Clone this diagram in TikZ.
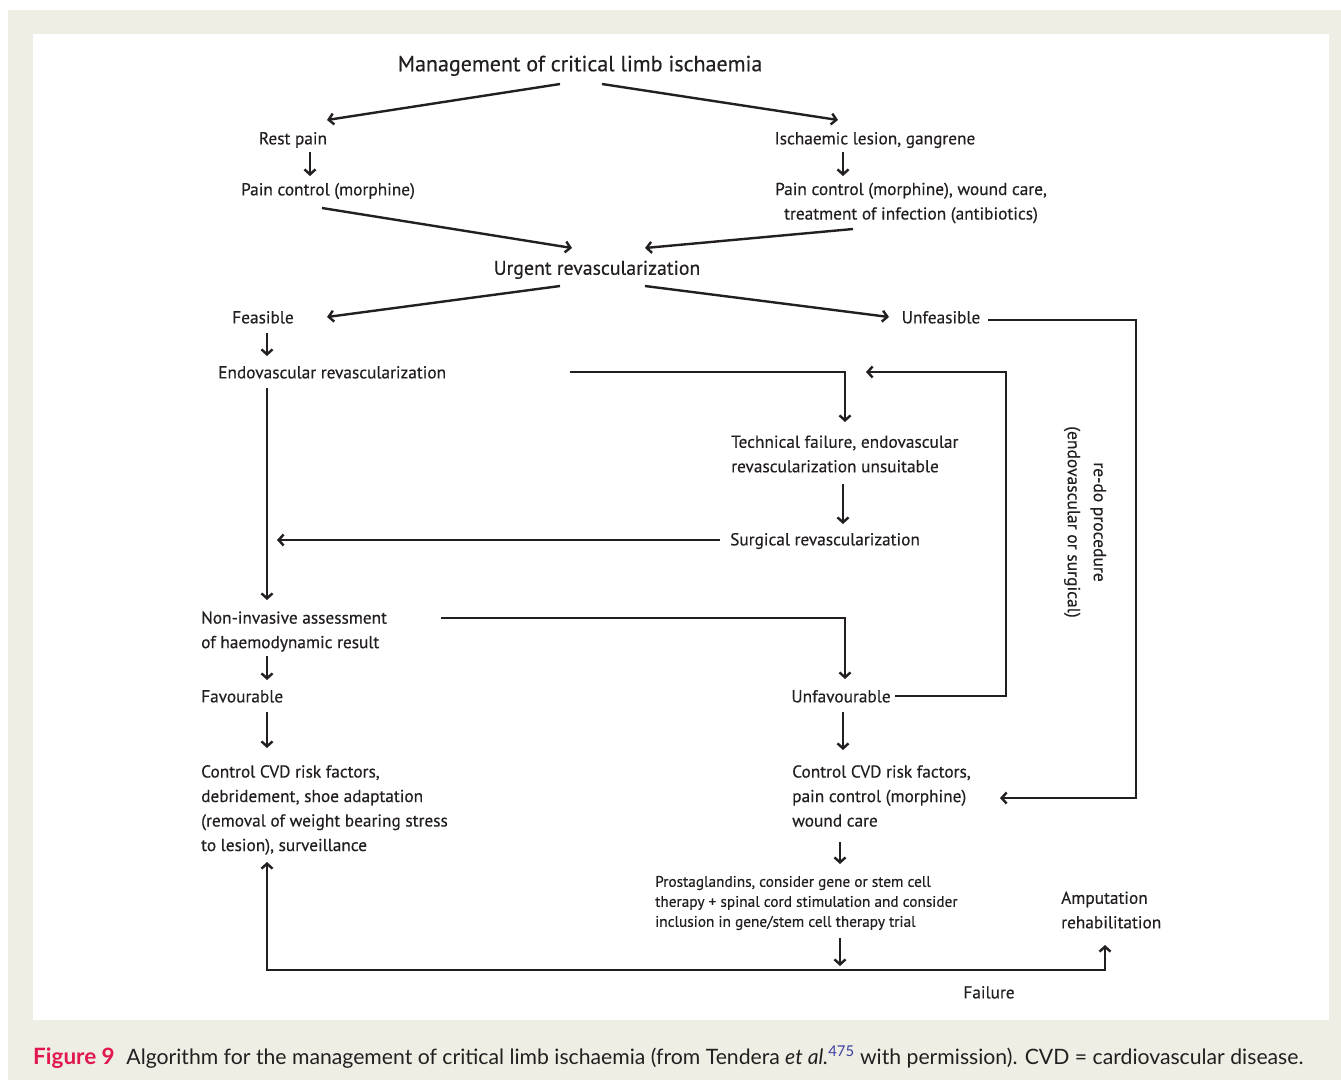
\documentclass[tikz,border=0pt]{standalone}
\usepackage{fontspec}
\setmainfont{PT Sans}[FakeBold=0.35]
\newfontfamily\capfont{Lato}
\usetikzlibrary{arrows.meta}

\definecolor{bggray}{HTML}{EFEEE4}
\definecolor{figred}{HTML}{E0184D}
\definecolor{refblue}{HTML}{3B3FA0}
\definecolor{ink}{HTML}{231F20}

\tikzset{
  txt/.style={font=\fontsize{17.3}{24.5}\selectfont, inner sep=0pt, text=ink},
  one/.style={txt, text height=16.5pt, text depth=3.8pt},
  many/.style={txt, align=left},
  link/.style={line width=2.4pt, draw=ink},
  arr/.style={link, ->},
}

\begin{document}
\begin{tikzpicture}[x=1pt, y=-1pt, >={Straight Barb[length=5pt,width=11pt]}, line join=miter]

% ----------------------------
% PAGE AND PANEL
% ----------------------------
\useasboundingbox (0,0) rectangle (1341,1080);
\fill[white] (0,0) rectangle (1341,1080);
\fill[bggray] (8,10) rectangle (1341,1080);
\fill[white] (33,34) rectangle (1329,1020);

% ----------------------------
% TEXT NODES
% ----------------------------
\node[one, font=\fontsize{22}{26}\selectfont, text height=19.5pt, text depth=5pt] (title) at (580,64) {Management of critical limb ischaemia};

\node[one] (rest) at (293,138) {Rest pain};
\node[one] (pcA) at (328,189) {Pain control (morphine)};
\node[one] (isch) at (875,138) {Ischaemic lesion, gangrene};
\node[many, align=center] (pcB) at (911,203) {Pain control (morphine), wound care,\\treatment of infection (antibiotics)};

\node[one, font=\fontsize{19.8}{24}\selectfont, text height=20pt, text depth=4.5pt] (urgent) at (597,267) {Urgent revascularization};

\node[one] (feas) at (263,317) {Feasible};
\node[one] (unfeas) at (941,317) {Unfeasible};
\node[one, anchor=west] (endo) at (218,372) {Endovascular revascularization};

\node[many, anchor=west] (tech) at (731,454) {Technical failure, endovascular\\revascularization unsuitable};
\node[one, anchor=west] (surg) at (730,539) {Surgical revascularization};

\node[many, anchor=west] (noninv) at (201,631.5) {Non-invasive assessment\\of haemodynamic result};
\node[one, anchor=west] (fav) at (201,696) {Favourable};
\node[one] (unfav) at (841,696) {Unfavourable};

\node[many, anchor=west] (ctrlA) at (201,810) {Control CVD risk factors,\\debridement, shoe adaptation\\(removal of weight bearing stress\\to lesion), surveillance};
\node[many, anchor=west] (ctrlB) at (792,796) {Control CVD risk factors,\\pain control (morphine)\\wound care};

\node[many, anchor=west, font=\fontsize{15.3}{20}\selectfont] (prost) at (655,903) {Prostaglandins, consider gene or stem cell\\therapy + spinal cord stimulation and consider\\inclusion in gene/stem cell therapy trial};
\node[many, anchor=west] (amp) at (1061,910) {Amputation\\rehabilitation};
\node[one] (fail) at (989,992) {Failure};

\node[many, align=center, rotate=-90, font=\fontsize{17.5}{26}\selectfont] (redo) at (1085,522) {re-do procedure\\(endovascular or surgical)};

% ----------------------------
% CONNECTOR POINTS
% ----------------------------
\coordinate (tL) at (560,84);   \coordinate (restIn) at (327,120);
\coordinate (tR) at (602,84);   \coordinate (ischIn) at (838,120);
\coordinate (pcAout) at (322,208); \coordinate (urgInL) at (572,248);
\coordinate (pcBout) at (853,229); \coordinate (urgInR) at (645,248);
\coordinate (urgL) at (560,286); \coordinate (feasIn) at (327,317);
\coordinate (urgR) at (645,286); \coordinate (unfeasIn) at (889,317);

\coordinate (endoOut) at (570,372);  \coordinate (techIn) at (845,422);
\coordinate (surgOut) at (720,540);  \coordinate (surgIn) at (277,540);
\coordinate (endoDown) at (267,388); \coordinate (noninvIn) at (267,600);
\coordinate (noninvOut) at (441,618); \coordinate (unfavIn) at (845,679);

\coordinate (unfavOut) at (895,696); \coordinate (loopA) at (1006,372); \coordinate (loopAin) at (866,372);
\coordinate (unfeasOut) at (988,320); \coordinate (loopB) at (1136,798); \coordinate (ctrlBin) at (1000,798);

\coordinate (fork) at (840,970);
\coordinate (ctrlAin) at (267,862);
\coordinate (ampIn) at (1105,945);

% ----------------------------
% CONNECTORS
% ----------------------------
\draw[arr] (tL) -- (restIn);
\draw[arr] (tR) -- (ischIn);
\draw[arr] (310,152) -- (310,176);
\draw[arr] (843,152) -- (843,176);
\draw[arr] (pcAout) -- (urgInL);
\draw[arr] (pcBout) -- (urgInR);
\draw[arr] (urgL) -- (feasIn);
\draw[arr] (urgR) -- (unfeasIn);

\draw[arr] (267,333) -- (267,356);
\draw[arr] (endoDown) -- (noninvIn);
\draw[arr] (endoOut) -| (techIn);
\draw[arr] (843,484) -- (843,524);
\draw[arr] (surgOut) -- (surgIn);

\draw[arr] (267,656) -- (267,680);
\draw[arr] (noninvOut) -| (unfavIn);
\draw[arr] (267,712) -- (267,748);
\draw[arr] (843,712) -- (843,750);

\draw[arr] (unfavOut) -| (loopA) -- (loopAin);
\draw[arr] (unfeasOut) -| (loopB) -- (ctrlBin);

\draw[arr] (840,842) -- (840,864);
\draw[arr] (840,938) -- (840,966);
\draw[arr] (fork) -| (ctrlAin);
\draw[arr] (fork) -| (ampIn);

% ----------------------------
% CAPTION
% ----------------------------
\node[anchor=base west, inner sep=0pt, text=ink, font=\capfont\fontsize{21.2}{24}\selectfont] (caption) at (33,1064)
  {\textcolor{figred}{\fontsize{22.5}{24}\selectfont\bfseries Figure 9}\hspace{0.55em}Algorithm for the management of critical limb ischaemia (from Tendera \textit{et al.}\textsuperscript{\textcolor{refblue}{475}} with permission). CVD = cardiovascular disease.};

\end{tikzpicture}
\end{document}
